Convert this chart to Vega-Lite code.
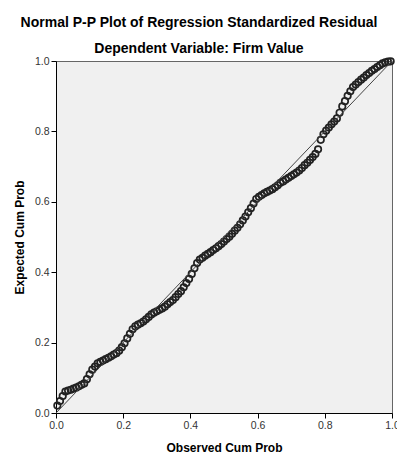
{
  "$schema": "https://vega.github.io/schema/vega-lite/v6.json",
  "width": 336,
  "height": 352,
  "autosize": {"type": "none"},
  "padding": {"left": 56, "top": 61, "right": 5, "bottom": 41},
  "background": "white",
  "title": {
    "text": "Normal P-P Plot of Regression Standardized Residual",
    "subtitle": "Dependent Variable: Firm Value",
    "font": "Liberation Sans",
    "fontSize": 14,
    "fontWeight": "bold",
    "color": "black",
    "subtitleFont": "Liberation Sans",
    "subtitleFontSize": 14,
    "subtitleFontWeight": "bold",
    "subtitleColor": "black",
    "anchor": "middle",
    "dx": -25,
    "offset": -1,
    "subtitlePadding": 12
  },
  "config": {
    "view": {"fill": "#F0F0F0", "stroke": "#666666", "strokeWidth": 1},
    "axis": {
      "grid": false,
      "domainColor": "black",
      "tickColor": "black",
      "tickSize": 5,
      "labelFlush": false,
      "labelFont": "Liberation Sans",
      "labelFontSize": 10.5,
      "labelColor": "#333333",
      "titleFont": "Liberation Sans",
      "titleFontSize": 12,
      "titleFontWeight": "bold",
      "titleColor": "black"
    }
  },
  "datasets": {
    "ref": [{"x": 0, "y": 0}, {"x": 1, "y": 1}],
    "pts": [
      {"x":0.004,"y":0.021},{"x":0.012,"y":0.034},{"x":0.020,"y":0.048},{"x":0.028,"y":0.061},
      {"x":0.036,"y":0.064},{"x":0.044,"y":0.066},{"x":0.052,"y":0.069},{"x":0.060,"y":0.072},
      {"x":0.068,"y":0.076},{"x":0.076,"y":0.080},{"x":0.084,"y":0.084},{"x":0.092,"y":0.096},
      {"x":0.100,"y":0.110},{"x":0.108,"y":0.123},{"x":0.116,"y":0.132},{"x":0.124,"y":0.141},
      {"x":0.132,"y":0.145},{"x":0.140,"y":0.149},{"x":0.148,"y":0.153},{"x":0.156,"y":0.157},
      {"x":0.164,"y":0.161},{"x":0.172,"y":0.166},{"x":0.180,"y":0.170},{"x":0.188,"y":0.177},
      {"x":0.196,"y":0.187},{"x":0.204,"y":0.198},{"x":0.212,"y":0.212},{"x":0.220,"y":0.225},
      {"x":0.228,"y":0.238},{"x":0.236,"y":0.246},{"x":0.244,"y":0.251},{"x":0.252,"y":0.255},
      {"x":0.260,"y":0.260},{"x":0.268,"y":0.266},{"x":0.276,"y":0.273},{"x":0.284,"y":0.280},
      {"x":0.292,"y":0.285},{"x":0.300,"y":0.289},{"x":0.308,"y":0.293},{"x":0.316,"y":0.297},
      {"x":0.324,"y":0.302},{"x":0.332,"y":0.309},{"x":0.340,"y":0.315},{"x":0.348,"y":0.321},
      {"x":0.356,"y":0.329},{"x":0.364,"y":0.338},{"x":0.372,"y":0.346},{"x":0.380,"y":0.357},
      {"x":0.388,"y":0.369},{"x":0.396,"y":0.381},{"x":0.404,"y":0.395},{"x":0.412,"y":0.411},
      {"x":0.420,"y":0.426},{"x":0.428,"y":0.436},{"x":0.436,"y":0.441},{"x":0.444,"y":0.447},
      {"x":0.452,"y":0.452},{"x":0.460,"y":0.457},{"x":0.468,"y":0.463},{"x":0.476,"y":0.468},
      {"x":0.484,"y":0.474},{"x":0.492,"y":0.480},{"x":0.500,"y":0.487},{"x":0.508,"y":0.494},
      {"x":0.516,"y":0.501},{"x":0.524,"y":0.509},{"x":0.532,"y":0.518},{"x":0.540,"y":0.526},
      {"x":0.548,"y":0.536},{"x":0.556,"y":0.547},{"x":0.564,"y":0.558},{"x":0.572,"y":0.570},
      {"x":0.580,"y":0.582},{"x":0.588,"y":0.595},{"x":0.596,"y":0.608},{"x":0.604,"y":0.614},
      {"x":0.612,"y":0.619},{"x":0.620,"y":0.624},{"x":0.628,"y":0.628},{"x":0.636,"y":0.632},
      {"x":0.644,"y":0.636},{"x":0.652,"y":0.641},{"x":0.660,"y":0.647},{"x":0.668,"y":0.654},
      {"x":0.676,"y":0.658},{"x":0.684,"y":0.663},{"x":0.692,"y":0.668},{"x":0.700,"y":0.673},
      {"x":0.708,"y":0.678},{"x":0.716,"y":0.683},{"x":0.724,"y":0.689},{"x":0.732,"y":0.696},
      {"x":0.740,"y":0.704},{"x":0.748,"y":0.711},{"x":0.756,"y":0.719},{"x":0.764,"y":0.727},
      {"x":0.772,"y":0.736},{"x":0.780,"y":0.749},{"x":0.788,"y":0.776},{"x":0.796,"y":0.792},
      {"x":0.804,"y":0.802},{"x":0.812,"y":0.811},{"x":0.820,"y":0.820},{"x":0.828,"y":0.828},
      {"x":0.836,"y":0.837},{"x":0.844,"y":0.853},{"x":0.852,"y":0.871},{"x":0.860,"y":0.886},
      {"x":0.868,"y":0.901},{"x":0.876,"y":0.914},{"x":0.884,"y":0.926},{"x":0.892,"y":0.933},
      {"x":0.900,"y":0.940},{"x":0.908,"y":0.947},{"x":0.916,"y":0.953},{"x":0.924,"y":0.960},
      {"x":0.932,"y":0.966},{"x":0.940,"y":0.972},{"x":0.948,"y":0.977},{"x":0.956,"y":0.983},
      {"x":0.964,"y":0.988},{"x":0.972,"y":0.993},{"x":0.980,"y":0.996},{"x":0.988,"y":0.998},
      {"x":0.996,"y":0.999}
    ]
  },
  "layer": [
    {
      "data": {"name": "pts"},
      "mark": {"type": "point", "shape": "circle", "filled": false, "stroke": "#222222", "strokeWidth": 1.7, "size": 42, "opacity": 1},
      "encoding": {
        "x": {"field": "x", "type": "quantitative", "scale": {"domain": [0, 1], "nice": false}, "axis": {"values": [0, 0.2, 0.4, 0.6, 0.8, 1], "format": ".1f", "title": "Observed Cum Prob", "titlePadding": 12}},
        "y": {"field": "y", "type": "quantitative", "scale": {"domain": [0, 1], "nice": false}, "axis": {"values": [0, 0.2, 0.4, 0.6, 0.8, 1], "format": ".1f", "title": "Expected Cum Prob", "titlePadding": 8}}
      }
    },
    {
      "data": {"name": "ref"},
      "mark": {"type": "line", "stroke": "#444444", "strokeWidth": 1},
      "encoding": {
        "x": {"field": "x", "type": "quantitative"},
        "y": {"field": "y", "type": "quantitative"}
      }
    }
  ]
}
